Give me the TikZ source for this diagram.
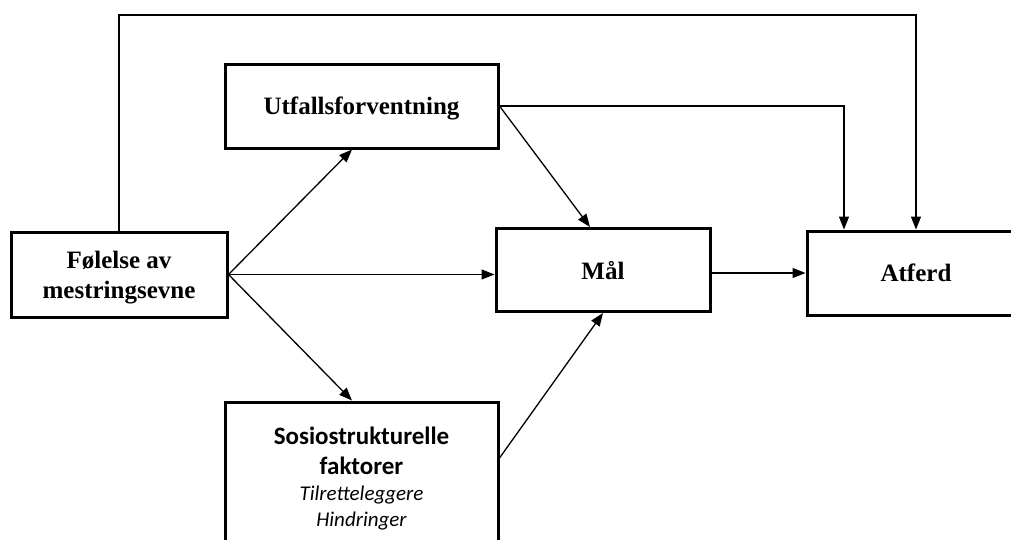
\documentclass[tikz,border=0pt]{standalone}
\usepackage{fontspec}
\setmainfont{Liberation Serif}
\newfontfamily\carlito{Carlito}
\usetikzlibrary{arrows.meta,positioning}

\begin{document}
\begin{tikzpicture}[x=1pt,y=-1pt,
    box/.style={draw,line width=3pt,align=center,inner sep=0pt,text depth=0pt,
      font=\bfseries\fontsize{25}{30}\selectfont},
    link/.style={line width=1.3pt,-{Triangle[length=13pt,width=10pt]}}]
    \useasboundingbox (0,0) rectangle (1011,539);
    \clip (0,0) rectangle (1011,539);
    % boxes
    \node[box,minimum width=216,minimum height=85] (fol) at (119,274.5) {Følelse av\\mestringsevne};
    \node[box,minimum width=273,minimum height=84] (utf) at (361.5,106) {Utfallsforventning};
    \node[box,minimum width=214,minimum height=83] (mal) at (603,270) {Mål};
    \node[box,minimum width=218,minimum height=84] (atf) at (916,273) {Atferd};
    \node[box,minimum width=273,minimum height=150,font=\carlito\bfseries\fontsize{25}{30}\selectfont] (sos) at (361.5,477)
        {Sosiostrukturelle\\faktorer\\[-4pt]{\mdseries\itshape\fontsize{21}{25}\selectfont Tilretteleggere}\\[-4pt]{\mdseries\itshape\fontsize{21}{25}\selectfont Hindringer}};
    \coordinate (top) at (0,15);
    % connectors
    \draw[link] (fol.east) -- ([xshift=-9.5pt]utf.south);
    \draw[link] (fol.east) -- (fol.east -| mal.west);
    \draw[link] (fol.east) -- ([xshift=-9.5pt]sos.north);
    \draw[link] (utf.east) -- ([xshift=-13pt]mal.north);
    \draw[link] (utf.east) -| ([xshift=-72pt]atf.north);
    \draw[link] (fol.north) -- (fol.north |- top) -| (atf.north);
    \draw[link] (mal.east |- atf.west) -- (atf.west);
    \draw[link] ([yshift=19pt]sos.east) -- (mal.south);
\end{tikzpicture}
\end{document}
